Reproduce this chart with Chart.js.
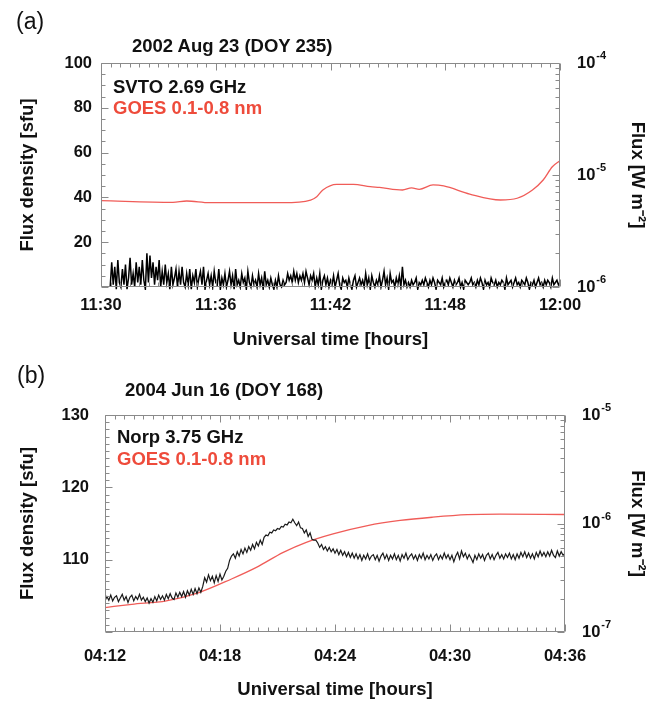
<!DOCTYPE html>
<html>
<head>
<meta charset="utf-8">
<script src="https://cdn.jsdelivr.net/npm/chart.js@4.4.1/dist/chart.umd.min.js"></script>
<style>
  body { margin: 0; background: #fff; }
  #wrap { position: relative; width: 664px; height: 707px; overflow: hidden; }
  canvas { position: absolute; left: 0; }
  .txt { position: absolute; white-space: nowrap; line-height: 1; font-family: 'Liberation Sans', Arial, sans-serif; color: #111; }
  .b { font-weight: bold; font-size: 18.5px; }
  .panel { font-size: 23px; }
  .red { color: #ee4b3b; }
</style>
</head>
<body>
<div id="wrap">
  <canvas id="chartA" width="664" height="352" style="top:0"></canvas>
  <canvas id="chartB" width="664" height="355" style="top:352px"></canvas>
  <div class="txt panel" style="left:16px;top:10px">(a)</div>
  <div class="txt b" style="left:132px;top:37px">2002 Aug 23 (DOY 235)</div>
  <div class="txt b" style="left:113px;top:78px">SVTO 2.69 GHz</div>
  <div class="txt b red" style="left:113px;top:99px">GOES 0.1-0.8 nm</div>
  <div class="txt panel" style="left:17px;top:364px">(b)</div>
  <div class="txt b" style="left:125px;top:381px">2004 Jun 16 (DOY 168)</div>
  <div class="txt b" style="left:117px;top:428px">Norp 3.75 GHz</div>
  <div class="txt b red" style="left:117px;top:450px">GOES 0.1-0.8 nm</div>
</div>
<script>
// panel (a): 2002 Aug 23, minutes after 11:30
const timeTicksA = ['11:30', '11:36', '11:42', '11:48', '12:00'];
const fluxDecadesA = [-4, -5, -6];
const svtoStart = 0.6;
const svtoStep = 0.1;
const svtoFlux = [
  0, 11, 1, 9, -1,
  12, 2, 0, 8, 1, 10, -1, 4, 13, 1,
  6, 0, 11, 2, 9, 1, 12, 3, -1, 15,
  2, 14, 4, 11, 1, 9, 3, 12, 0, 7,
  1, 10, 2, 6, -1, 9, 1, 4, 8, 0,
  7, 1, 9, 2, 0, 6, 1, 8, -1, 5,
  2, 8, 0, 4, 7, 1, 9, -1, 3, 6,
  1, 5, 0, 7, 2, 1, 8, -1, 4, 1,
  6, 0, 3, 7, 1, 5, -1, 8, 1, 3,
  0, 6, 2, 4, -1, 7, 2, 0, 5, 1,
  3, 0, 6, 1, 4, -1, 7, 1, 3, 0,
  4, 1, -1, 3, 0, 5, 1, 0, 3, 1,
  2, 6, 3, 5, 2, 7, 3, 6, 2, 5,
  3, 6, 2, 7, 4, 1, 5, 3, 6, 0,
  4, 1, 6, -1, 3, 5, 1, 4, 0, 3,
  1, 5, 0, 3, 6, 1, -1, 4, 2, 3,
  0, 4, 1, -1, 3, 5, 0, 2, 4, 1,
  3, 0, 6, 1, 4, -1, 5, 2, 0, 3,
  1, 5, 0, 3, 7, 1, 4, -1, 6, 2,
  3, 0, 4, 1, 5, 0, 9, 1, 3, 0,
  2, 0, 3, 1, 2, 4, -1, 2, 1, 3,
  1, 4, 2, 0, 3, 1, 4, 2, -1, 3,
  2, 1, 4, 0, 2, 3, 1, 4, 2, 0,
  3, 1, 2, 4, 0, 2, -1, 3, 2, 1,
  2, 4, 1, 2, 0, 3, 1, 4, 2, -1,
  3, 1, 2, 0, 4, 2, 1, 3, 0, 2,
  1, 3, 2, -1, 4, 1, 2, 3, 0, 2,
  4, 1, 2, 0, 3, 2, 1, 4, 2, -1,
  2, 1, 3, 0, 2, 4, 1, 2, 0, 3,
  1, 3, 2, 0, 4, 1, 2, 3, 1, 2
];
const goesATime = [0, 4.7, 5.6, 7.1, 11.9, 13.7, 14.1, 14.5, 15.4, 16.5, 17.6, 18.2,
  19.7, 20.3, 20.8, 21.7, 22.4, 24.1, 26.1, 27.2, 28.2, 28.9, 29.5, 30];
const goesAFlux = [5.90e-6, 5.70e-6, 5.86e-6, 5.66e-6, 5.66e-6, 5.98e-6, 6.40e-6, 7.35e-6,
  8.26e-6, 8.26e-6, 7.87e-6, 7.76e-6, 7.35e-6, 7.66e-6, 7.45e-6, 8.15e-6, 7.98e-6,
  6.76e-6, 5.98e-6, 6.20e-6, 7.35e-6, 9.02e-6, 1.186e-5, 1.343e-5];

// panel (b): 2004 Jun 16, minutes after 04:12
const timeTicksB = ['04:12', '04:18', '04:24', '04:30', '04:36'];
const fluxDecadesB = [-5, -6, -7];
const norpStart = 0;
const norpStep = 0.1;
const norpFlux = [
  104.3, 104.9, 104.4, 105.1, 104.3, 104.8, 105.0, 104.2, 104.7, 105.2,
  104.4, 104.9, 104.1, 104.8, 105.1, 104.3, 104.9, 104.5, 105.2, 104.4,
  104.8, 104.2, 104.7, 104.0, 104.6, 104.1, 104.9, 104.3, 105.1, 104.5,
  105.0, 104.4, 105.2, 104.6, 105.3, 104.7, 104.5, 105.4, 104.8, 105.5,
  104.9, 105.6, 104.8, 105.7, 105.1, 105.9, 105.2, 106.0, 105.3, 106.1,
  105.5, 106.3, 107.5, 106.9, 107.9, 107.1, 107.7, 106.8, 107.8, 107.0,
  108.0, 107.2, 107.7, 108.4, 108.8, 109.9, 110.5, 110.8, 110.2, 111.1,
  110.5, 111.4, 110.8, 111.6, 111.0, 111.8, 111.3, 112.1, 111.5, 112.4,
  111.9, 112.7, 112.1, 113.1, 113.4, 113.3, 113.8, 113.7, 114.1, 114.0,
  114.3, 114.2, 114.6, 114.5, 114.9, 114.8, 115.2, 115.1, 115.6, 115.1,
  114.7, 115.2, 114.4, 114.3, 113.7, 114.1, 113.2, 113.7, 112.8, 112.7,
  112.7, 112.3, 111.7, 112.1, 111.4, 111.8, 111.2, 111.7, 111.1, 111.5,
  110.9, 111.4, 110.7, 111.3, 110.6, 111.1, 110.4, 111.0, 110.3, 110.9,
  110.2, 110.8, 110.1, 110.7, 109.9, 110.6, 110.1, 110.8, 110.0, 110.5,
  110.7, 110.0, 110.6, 109.8, 110.5, 110.9, 110.1, 110.7, 109.9, 110.6,
  110.1, 110.8, 110.0, 110.6, 109.8, 110.7, 110.2, 110.9, 110.0, 110.5,
  110.8, 110.1, 110.6, 109.9, 110.7, 110.2, 110.9, 110.0, 110.6, 110.1,
  110.7, 109.9, 110.5, 110.8, 110.0, 110.6, 110.1, 110.9, 110.2, 110.7,
  110.0, 110.6, 109.7, 110.5, 111.0, 110.1, 111.2, 110.4, 110.9, 110.1,
  110.7, 110.2, 109.6, 110.6, 110.0, 110.8, 110.2, 110.7, 109.9, 110.6,
  110.9, 110.1, 110.7, 110.0, 110.6, 111.0, 110.2, 110.7, 110.1, 110.8,
  110.3, 110.9, 110.1, 110.7, 110.0, 110.8, 110.2, 111.0, 110.4, 111.1,
  110.3, 110.9, 110.2, 110.8, 110.1, 111.0, 110.4, 111.2, 110.5, 111.0,
  110.4, 111.1, 110.5, 111.3, 110.6, 110.3, 111.2, 110.5, 111.1, 110.6,
  110.9
];
const goesBTime = [0, 1.4, 3.2, 4.9, 6.6, 7.9, 9.3, 10.5, 11.9, 13.7, 15.4, 17.1, 18.9, 20.6, 24];
const goesBFlux = [1.68e-7, 1.80e-7, 1.94e-7, 2.31e-7, 3.08e-7, 3.94e-7, 5.42e-7, 6.71e-7,
  8.03e-7, 9.58e-7, 1.067e-6, 1.143e-6, 1.205e-6, 1.22e-6, 1.21e-6];

const FONT = "'Liberation Sans', Arial, sans-serif";
Chart.defaults.font.family = FONT;
Chart.defaults.color = '#111';

// frame box, inward tick marks, and 10^n labels on the right axis
const frameTicks = {
  id: 'frameTicks',
  afterDatasetsDraw(chart, args, opts) {
    const { ctx, chartArea: a, scales } = chart;
    const L = Math.round(a.left) + 0.5, R = Math.round(a.right) - 0.5;
    const T = Math.round(a.top) + 0.5, B = Math.round(a.bottom) - 0.5;
    ctx.save();
    ctx.strokeStyle = '#8a8a8a';
    ctx.lineWidth = 1;
    ctx.beginPath();
    ctx.rect(L, T, R - L, B - T);
    const x = scales.x;
    for (let i = 0; ; i++) {
      const v = x.min + i * opts.xMinor;
      if (v > x.max + 1e-6) break;
      const len = i % opts.xPer === 0 ? 7 : 4;
      const px = Math.round(x.getPixelForValue(v)) + 0.5;
      ctx.moveTo(px, B); ctx.lineTo(px, B - len);
      ctx.moveTo(px, T); ctx.lineTo(px, T + len);
    }
    const y = scales.y;
    for (let i = 0; ; i++) {
      const v = y.min + i * opts.yMinor;
      if (v > y.max + 1e-6) break;
      const len = i % opts.yPer === 0 ? 7 : 4;
      const py = Math.round(y.getPixelForValue(v)) + 0.5;
      ctx.moveTo(L, py); ctx.lineTo(L + len, py);
    }
    const y2 = scales.y2;
    const lo = Math.floor(Math.log10(y2.min)), hi = Math.ceil(Math.log10(y2.max));
    for (let d = lo; d <= hi; d++) {
      for (let k = 1; k <= 9; k++) {
        const v = k * Math.pow(10, d);
        if (v < y2.min * 0.999 || v > y2.max * 1.001) continue;
        const py = Math.round(y2.getPixelForValue(v)) + 0.5;
        ctx.moveTo(R, py); ctx.lineTo(R - (k === 1 ? 7 : 4), py);
      }
    }
    ctx.stroke();

    ctx.fillStyle = '#111';
    ctx.textBaseline = 'middle';
    ctx.textAlign = 'left';
    opts.decades.forEach(e => {
      const py = y2.getPixelForValue(Math.pow(10, e));
      const px = a.right + 17;
      ctx.font = 'bold 16.5px ' + FONT;
      ctx.fillText('10', px, py);
      const w = ctx.measureText('10').width;
      ctx.font = 'bold 11px ' + FONT;
      ctx.fillText('-' + Math.abs(e), px + w + 1, py - 7);
    });
    ctx.restore();
  }
};

function makeChart(canvasId, cfg) {
  return new Chart(document.getElementById(canvasId), {
    type: 'line',
    data: {
      datasets: [{
        data: cfg.black,
        yAxisID: 'y',
        borderColor: cfg.blackColor,
        borderWidth: cfg.blackWidth,
        pointRadius: 0,
        tension: 0,
        clip: { left: 0, top: 0, right: 0, bottom: 3 }
      }, {
        data: cfg.red,
        yAxisID: 'y2',
        borderColor: 'rgb(240,92,88)',
        borderWidth: 1.3,
        pointRadius: 0,
        cubicInterpolationMode: 'monotone'
      }]
    },
    options: {
      responsive: false,
      animation: false,
      parsing: false,
      normalized: true,
      layout: { padding: { top: 63, left: 0, right: 0, bottom: 0 } },
      plugins: {
        legend: { display: false },
        tooltip: { enabled: false },
        frameTicks: cfg.ticks
      },
      scales: {
        x: {
          type: 'linear',
          min: cfg.xMin,
          max: cfg.xMax,
          grid: { display: false, drawTicks: false },
          border: { display: false },
          ticks: {
            stepSize: cfg.xStep,
            autoSkip: false,
            maxRotation: 0,
            padding: cfg.xPad,
            font: { size: 16.5, weight: 'bold' },
            callback: v => cfg.xLabels[Math.round((v - cfg.xMin) / cfg.xStep)]
          },
          title: {
            display: true,
            text: 'Universal time [hours]',
            font: { size: 18.5, weight: 'bold' },
            padding: { top: 0, bottom: cfg.xTitlePad }
          },
          afterFit: s => { s.height = cfg.xHeight; }
        },
        y: {
          position: 'left',
          min: cfg.yMin,
          max: cfg.yMax,
          grid: { display: false, drawTicks: false },
          border: { display: false },
          ticks: {
            stepSize: cfg.yStep,
            padding: cfg.yPad,
            font: { size: 16.5, weight: 'bold' },
            callback: v => (v === cfg.yMin ? '' : v)
          },
          title: {
            display: true,
            text: 'Flux density [sfu]',
            font: { size: 18.5, weight: 'bold' },
            padding: { top: 17, bottom: 0 }
          },
          afterFit: s => { s.width = cfg.leftWidth; }
        },
        y2: {
          type: 'logarithmic',
          position: 'right',
          min: cfg.fluxMin,
          max: cfg.fluxMax,
          grid: { display: false, drawTicks: false },
          border: { display: false },
          ticks: { display: false },
          title: {
            display: true,
            text: 'Flux [W m⁻²]',
            font: { size: 18.5, weight: 'bold' },
            padding: { top: 16, bottom: 0 }
          },
          afterFit: s => { s.width = cfg.rightWidth; }
        }
      }
    },
    plugins: [frameTicks]
  });
}

makeChart('chartA', {
  black: svtoFlux.map((v, i) => ({ x: svtoStart + i * svtoStep, y: v })),
  red: goesATime.map((t, i) => ({ x: t, y: goesAFlux[i] })),
  blackColor: '#000', blackWidth: 1.5,
  xMin: 0, xMax: 30, xStep: 7.5, xLabels: timeTicksA, xPad: 9, xTitlePad: 1, xHeight: 65,
  yMin: 0, yMax: 100, yStep: 20, yPad: 9,
  fluxMin: 1e-6, fluxMax: 1e-4,
  leftWidth: 101, rightWidth: 104,
  ticks: { xMinor: 0.625, xPer: 12, yMinor: 5, yPer: 4, decades: fluxDecadesA }
});

makeChart('chartB', {
  black: norpFlux.map((v, i) => ({ x: norpStart + i * norpStep, y: v })),
  red: goesBTime.map((t, i) => ({ x: t, y: goesBFlux[i] })),
  blackColor: '#1a1a1a', blackWidth: 1.2,
  xMin: 0, xMax: 24, xStep: 6, xLabels: timeTicksB, xPad: 15, xTitlePad: 6, xHeight: 75,
  yMin: 100, yMax: 130, yStep: 10, yPad: 16,
  fluxMin: 1e-7, fluxMax: 1e-5,
  leftWidth: 105, rightWidth: 99,
  ticks: { xMinor: 0.5, xPer: 12, yMinor: 1, yPer: 10, decades: fluxDecadesB }
});
</script>
</body>
</html>
